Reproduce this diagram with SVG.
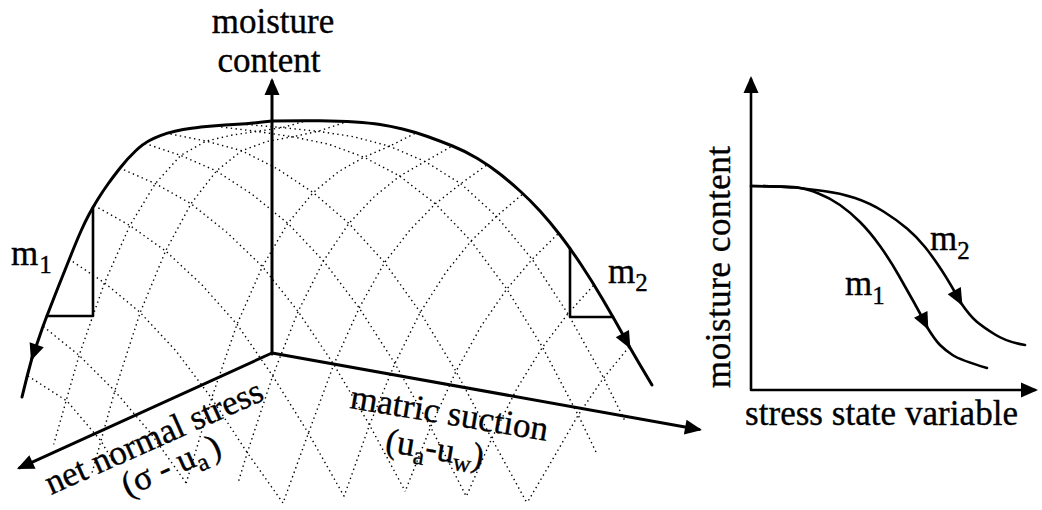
<svg xmlns="http://www.w3.org/2000/svg" width="1042" height="510" viewBox="0 0 1042 510">
<defs>
<marker id="ah" viewBox="-17 -8 20 16" refX="0" refY="0" markerWidth="20" markerHeight="16" markerUnits="userSpaceOnUse" orient="auto-start-reverse"><path d="M3,0 L-14,-7.5 L-14,7.5 Z" fill="#000"/></marker>
<style>
.mesh{fill:none;stroke:#000;stroke-width:1.4;stroke-dasharray:1.4 3.4;}
.bold{fill:none;stroke:#000;stroke-width:3;stroke-linecap:round;stroke-linejoin:round;}
.med{fill:none;stroke:#000;stroke-width:2.6;stroke-linecap:round;stroke-linejoin:round;}
.t{font-family:"Liberation Serif","Times New Roman",serif;font-size:35px;fill:#000;stroke:#000;stroke-width:0.35;}
.sub{font-size:25px;}
</style>
</defs>
<rect width="1042" height="510" fill="#fff"/>

<g id="surface-mesh">
<polyline class="mesh" points="246.6,124.5 282.3,127.6 318,131.3 353.7,136.7 389.4,146.2 425.1,161.5 460.8,183.7 496.5,216.3 532.2,259.3 567.9,313.7 603.6,377.9 625,421"/>
<polyline class="mesh" points="221.2,127 256.9,131.4 292.6,136.8 328.3,144.1 364,157.2 399.7,176.1 435.4,203.8 471.1,241 506.8,289 542.5,347.2 578.2,415.1 596,452"/>
<polyline class="mesh" points="170.4,134 206.1,141.1 241.8,150.7 277.5,168.9 313.2,192.6 348.9,223.4 384.6,262.5 420.3,312.3 456,371.3 491.7,438.6 527,503"/>
<polyline class="mesh" points="145,143.5 180.7,155.4 216.4,171 252.1,194.3 287.8,223.3 323.5,260.9 359.2,307.9 394.9,363.5 430.6,427 466.3,496.4"/>
<polyline class="mesh" points="119.6,168 155.3,183.6 191,203.7 226.7,232.2 262.4,266.6 298.1,311.5 333.8,364.5 369.5,424.9 405.2,491.3"/>
<polyline class="mesh" points="94.2,205.5 129.9,225.5 165.6,251 201.3,284.2 237,324.3 272.7,375.9 308.4,433.2 344.1,496.3"/>
<polyline class="mesh" points="68.8,259 104.5,282.8 140.2,312.5 175.9,350.8 211.6,398.3 247.3,452.7 283,503"/>
<polyline class="mesh" points="43.4,326.5 79.1,355.4 114.8,391 150.5,433 186.2,483"/>
<polyline class="mesh" points="28,376 67,401 101,441 114,463"/>
<polyline class="mesh" points="307.7,120.4 282.3,127.6 256.9,131.4 231.5,135.2 206.1,141.1 180.7,155.4 155.3,183.6 129.9,225.5 104.5,282.8 79.1,355.4 53.7,444.4"/>
<polyline class="mesh" points="343.4,122.8 318,131.3 292.6,136.8 267.2,141.4 241.8,150.7 216.4,171 191,203.7 165.6,251 140.2,312.5 114.8,391 92,473"/>
<polyline class="mesh" points="414.8,133.6 389.4,146.2 364,157.2 338.6,171.6 313.2,192.6 287.8,223.3 262.4,266.6 237,324.3 211.6,398.3 186.2,483"/>
<polyline class="mesh" points="450.5,147 425.1,161.5 399.7,176.1 374.3,196.6 348.9,223.4 323.5,260.9 298.1,311.5 272.7,375.9 247.3,452.7 238,483"/>
<polyline class="mesh" points="486.2,165.4 460.8,183.7 435.4,203.8 410,230 384.6,262.5 359.2,307.9 333.8,364.5 308.4,433.2 283,503"/>
<polyline class="mesh" points="521.9,194.8 496.5,216.3 471.1,241 445.7,272.7 420.3,312.3 394.9,363.5 369.5,424.9 344.1,496.3"/>
<polyline class="mesh" points="557.6,234.2 532.2,259.3 506.8,289 481.4,325.7 456,371.3 430.6,427 405.2,491.3"/>
<polyline class="mesh" points="593.3,285.6 567.9,313.7 542.5,347.2 517.1,388.2 491.7,438.6 466.3,496.4"/>
<polyline class="mesh" points="629,347 603.6,377.9 578.2,415.1 552.8,459.1 527,503"/>
</g>

<g id="connectors">
<path id="axis-moisture" class="bold" d="M272,354 L272,81" marker-end="url(#ah)"/>
<path id="axis-net-normal-stress" class="bold" d="M272,353 L19.7,467.8" marker-end="url(#ah)"/>
<path id="axis-matric-suction" class="bold" d="M272,353 L699,429.5" marker-end="url(#ah)"/>
<path id="curve-m1" class="bold" d="M272,121 Q250,123.5 237.5,124.3 Q225,125 212.5,126 Q200,127 191.5,128.3 Q183,129.5 175,131.3 Q167,133 161,135.3 Q155,137.5 149,140.8 Q143,144 135.5,151 Q128,158 120.5,167.5 Q113,177 108,184 Q103,191 98,199 Q93,207 89,214.5 Q85,222 81,231 Q77,240 71,255 Q65,270 61,280 Q57,290 53.5,299 Q50,308 46.5,317 Q43,326 40,335 Q37,344 32,358" marker-end="url(#ah)"/>
<path class="bold" d="M32,358 Q27,376 22,397"/>
<path id="curve-m2" class="bold" d="M272,121 Q300,120.5 320,120.8 Q340,121 355,122 Q370,123 380,124.5 Q390,126 402.5,129 Q415,132 427.5,136.5 Q440,141 452.5,146 Q465,151 477.5,158.5 Q490,166 500,174 Q510,182 520,191 Q530,200 540,211 Q550,222 560,235 Q570,248 581,264.5 Q592,281 602.5,299 Q613,317 617.5,325 Q622,333 629,346" marker-end="url(#ah)"/>
<path class="bold" d="M629,346 Q640,365 652,385"/>
<path id="axes-2d" class="med" d="M751,79 L751,390 L1035,390" marker-start="url(#ah)" marker-end="url(#ah)"/>
<path id="curve2d-m1" class="med" d="M751,186 Q790,186.5 798.5,187.8 Q807,189 818.5,193.5 Q830,198 840,205 Q850,212 860,222 Q870,232 880,246 Q890,260 898.5,275 Q907,290 913.5,301.5 Q920,313 927,327" marker-end="url(#ah)"/>
<path class="med" d="M927,327 Q935,340 940,345 Q945,350 952.5,355 Q960,360 987,368"/>
<path id="curve2d-m2" class="med" d="M751,186 Q790,186.5 798.5,187.8 Q807,189 823.5,191 Q840,193 855,198 Q870,203 883.5,211.5 Q897,220 907,228.5 Q917,237 925,247 Q933,257 941.5,270 Q950,283 961,303" marker-end="url(#ah)"/>
<path class="med" d="M961,303 Q970,316 976.5,321.5 Q983,327 995,334.5 Q1007,342 1025,345"/>
</g>

<g id="slope-m1">
<polyline class="med" points="93,207 93,316 47,316"/>
<text class="t" x="11" y="265">m<tspan class="sub" dx="1" dy="8">1</tspan></text>
</g>
<g id="slope-m2">
<polyline class="med" points="570,248 570,317 613,317"/>
<text class="t" x="608" y="283">m<tspan class="sub" dx="0" dy="8">2</tspan></text>
</g>

<g id="label-moisture-content">
<text class="t" x="273" y="33" text-anchor="middle">moisture</text>
<text class="t" x="269" y="72" text-anchor="middle">content</text>
</g>
<g id="label-net-normal-stress">
<text class="t" transform="translate(51,495) rotate(-24)" x="0" y="0" textLength="235">net normal stress</text>
<text class="t" transform="translate(51,495) rotate(-24)" x="69" y="33">(σ - u<tspan class="sub" dy="7">a</tspan><tspan dy="-7" dx="5">)</tspan></text>
</g>
<g id="label-matric-suction">
<text class="t" transform="translate(349,408) rotate(9.5)" x="0" y="0" textLength="200">matric suction</text>
<text class="t" transform="translate(349,408) rotate(9.5)" x="42" y="37">(u<tspan class="sub" dy="7">a</tspan><tspan dy="-7">-u</tspan><tspan class="sub" dy="7">w</tspan><tspan dy="-7">)</tspan></text>
</g>

<g id="chart-2d-labels">
<text class="t" transform="translate(730,388) rotate(-90)" x="0" y="0" textLength="242">moisture content</text>
<text class="t" x="745" y="425" textLength="273">stress state variable</text>
<text class="t" x="930" y="250">m<tspan class="sub" dy="9">2</tspan></text>
<text class="t" x="845" y="295">m<tspan class="sub" dy="9">1</tspan></text>
</g>
</svg>
